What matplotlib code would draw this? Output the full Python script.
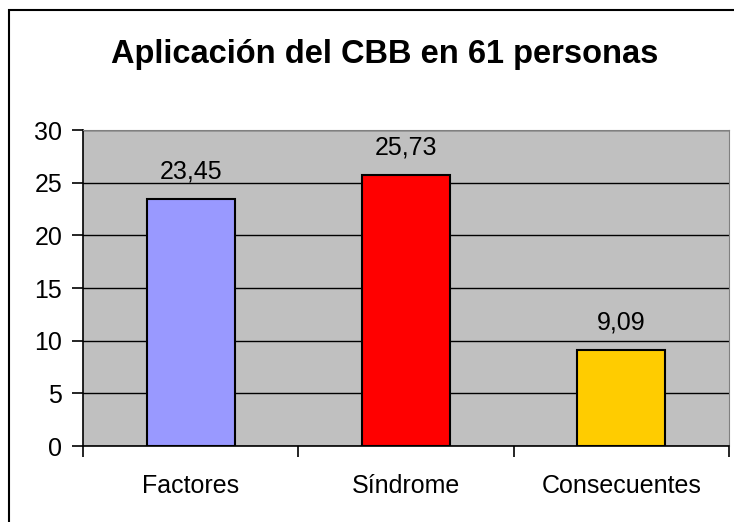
import matplotlib.pyplot as plt
from matplotlib.patches import Rectangle

plt.rcParams['font.family'] = ['Liberation Sans', 'DejaVu Sans']

# datos
categorias = ['Factores', 'Síndrome', 'Consecuentes']
valores = [23.45, 25.73, 9.09]
colores = ['#9999FF', '#FF0000', '#FFCC00']
etiquetas = ['23,45', '25,73', '9,09']
yticks = [0, 5, 10, 15, 20, 25, 30]

fig = plt.figure(figsize=(7.34, 5.22), dpi=100)
fig.patch.set_facecolor('white')

# marco del gráfico
fig.patches.append(Rectangle((9 / 734, -0.1), 1.2, 1 - 10 / 522 + 0.1,
                             transform=fig.transFigure, fill=False,
                             edgecolor='black', linewidth=1.5, zorder=0))

ax = fig.add_axes([83 / 734, 1 - 446 / 522, (729 - 83) / 734, (446 - 130) / 522])
ax.set_facecolor('#C0C0C0')

x = range(len(categorias))
ax.bar(x, valores, width=0.41, color=colores, edgecolor='black',
       linewidth=1.5, zorder=3)

for xi, v, t in zip(x, valores, etiquetas):
    ax.annotate(t, (xi, v), xytext=(0, 11), textcoords='offset points',
                ha='center', va='bottom', fontsize=18)

ax.set_xlim(-0.5, 2.5)
ax.set_ylim(0, 30)
ax.set_yticks(yticks)
ax.set_yticklabels([str(t) for t in yticks])
ax.yaxis.grid(True, color='black', linewidth=1)
ax.set_axisbelow(True)

# ticks del eje x en los límites de cada categoría
ax.set_xticks([-0.5, 0.5, 1.5, 2.5])
ax.set_xticklabels([])
ax.set_xticks(list(x), minor=True)
ax.set_xticklabels(categorias, minor=True, fontsize=18)
ax.tick_params(axis='x', which='minor', length=0, pad=20)
ax.tick_params(axis='x', which='major', length=8, width=1.2, direction='out')
ax.tick_params(axis='y', length=8, width=1.2, labelsize=18, pad=7)

for s in ['top', 'right']:
    ax.spines[s].set_color('#808080')
for s in ['left', 'bottom']:
    ax.spines[s].set_color('black')
    ax.spines[s].set_linewidth(1.2)

fig.text(385 / 734, 1 - 55 / 522, 'Aplicación del CBB en 61 personas',
         ha='center', va='center', fontsize=23.5, fontweight='bold')

fig.savefig('out.png', dpi=100)
